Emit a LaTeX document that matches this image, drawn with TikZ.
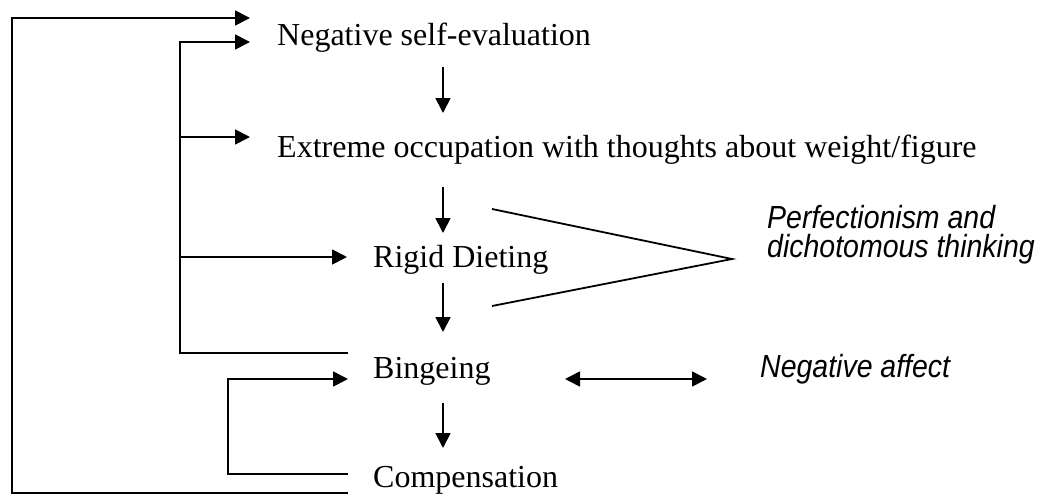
\documentclass[tikz,border=0pt]{standalone}
\usepackage{fontspec}
\setmainfont{Liberation Serif}
\newfontfamily\condit[FakeStretch=0.89]{Liberation Sans}
\usetikzlibrary{arrows.meta}
\begin{document}
\begin{tikzpicture}[x=1pt,y=-1pt,
  lbl/.style={inner sep=0pt, anchor=base west, font=\fontsize{32}{36}\selectfont},
  side/.style={inner sep=0pt, anchor=base west, align=left, font=\condit\itshape\fontsize{32}{29}\selectfont},
  conn/.style={line width=1.8pt},
  arr/.style={conn, -{Triangle[length=15pt,width=15pt]}},
  darr/.style={conn, {Triangle[length=15pt,width=15pt]}-{Triangle[length=15pt,width=15pt]}},
  vee/.style={line width=1.8pt}]
\useasboundingbox (0,0) rectangle (1049,498);
% texts
\node[lbl] (neg) at (277,45) {Negative self-evaluation};
\node[lbl] (ext) at (277,157) {Extreme occupation with thoughts about weight/figure};
\node[lbl] (rig) at (373,267) {Rigid Dieting};
\node[lbl] (bin) at (373,378) {Bingeing};
\node[lbl] (com) at (373,487) {Compensation};
\node[side] (perf) at (767,257) {Perfectionism and\\dichotomous thinking};
\node[side] (aff) at (760,377) {Negative affect};
% connector ends
\coordinate (negTop) at (443,67);  \coordinate (extIn) at (443,113);
\coordinate (extBot) at (443,187); \coordinate (rigIn) at (443,233);
\coordinate (rigBot) at (443,283); \coordinate (binIn) at (443,332);
\coordinate (binBot) at (443,403); \coordinate (comIn) at (443,448);
\coordinate (outS) at (348,493);   \coordinate (outT) at (250,18);
\coordinate (inS) at (348,353);    \coordinate (inT) at (250,42);
\coordinate (extL) at (250,137);   \coordinate (rigL) at (347,257);
\coordinate (smS) at (348,474);    \coordinate (smT) at (348,379);
\coordinate (affL) at (565,379);   \coordinate (affR) at (707,379);
\coordinate (veeA) at (492,209);   \coordinate (veeB) at (492,306);
\coordinate (veeTip) at (732,259);
% vertical chain
\draw[arr] (negTop) -- (extIn);
\draw[arr] (extBot) -- (rigIn);
\draw[arr] (rigBot) -- (binIn);
\draw[arr] (binBot) -- (comIn);
% feedback loops
\draw[arr] (outS) -- ++(-336,0) |- (outT);
\draw[arr] (inS) -- ++(-168,0) |- (inT);
\draw[arr] (180,137) -- (extL);
\draw[arr] (180,257) -- (rigL);
\draw[arr] (smS) -- ++(-120,0) |- (smT);
% side influences
\draw[darr] (affL) -- (affR);
\draw[vee] (veeA) -- (veeTip) -- (veeB);
\end{tikzpicture}
\end{document}
